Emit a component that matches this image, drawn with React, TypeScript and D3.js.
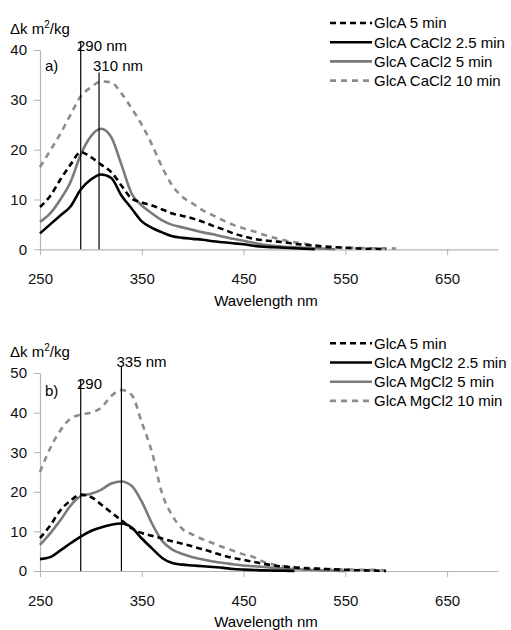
import React, { useEffect, useRef } from 'react'
import * as d3 from 'd3'

// wavelengths (nm) shared by every series, 10 nm steps
const wavelengths = [250, 260, 270, 280, 290, 300, 310, 320, 330, 340, 350, 360, 370, 380, 390, 400, 410, 420, 430, 440, 450, 460, 470, 480, 490, 500, 510, 520, 530, 540, 550, 560, 570, 580, 590, 600]

// panel a) CaCl2
const glcA5a = [8.5, 10.7, 14, 17, 19.5, 18.5, 17, 15.5, 12.8, 10.2, 9.4, 8.8, 8, 7.2, 6.7, 6.2, 5.5, 4.7, 4, 3.2, 2.6, 2.1, 1.8, 1.6, 1.4, 1.1, 0.9, 0.7, 0.5, 0.4, 0.3, 0.2, 0.1, 0.1, 0, 0]
const caCl25 = [3.2, 5, 6.8, 8.6, 12, 14, 15, 14.3, 10.8, 8.2, 5.6, 4.3, 3.4, 2.6, 2.3, 2.1, 1.9, 1.6, 1.4, 1.2, 1, 0.7, 0.5, 0.4, 0.3, 0.2, 0.1, 0, 0, 0, 0, 0, 0, 0, 0, 0]
const caCl5 = [5.5, 7.2, 10, 13.5, 19, 22.7, 24.2, 22.5, 17, 11.2, 8.8, 7.2, 5.8, 4.9, 4.4, 3.9, 3.4, 3, 2.5, 2.1, 1.7, 1.3, 0.9, 0.7, 0.5, 0.4, 0.3, 0.2, 0.1, 0, 0, 0, 0, 0, 0, 0]
const caCl10 = [16.5, 19.8, 23.2, 27, 30.7, 32.5, 33.7, 33.5, 31.3, 28.3, 25, 21, 16.5, 12.8, 10.5, 9.2, 7.8, 6.8, 5.8, 4.9, 4.2, 3.6, 2.9, 2.3, 1.8, 1.4, 1.1, 0.8, 0.6, 0.45, 0.35, 0.3, 0.25, 0.2, 0.2, 0.15]

// panel b) MgCl2
const glcA5b = [8.3, 11.5, 15.3, 17.8, 19.3, 18.7, 16.8, 14.8, 12.8, 10.8, 9.6, 8.9, 8.2, 7.5, 6.9, 6.2, 5.5, 4.7, 3.9, 3.3, 2.8, 2.3, 1.8, 1.4, 1.1, 0.9, 0.7, 0.6, 0.5, 0.4, 0.3, 0.2, 0.15, 0.1, 0, 0]
const mgCl25 = [3, 3.5, 5.2, 7, 8.7, 10.1, 11, 11.7, 12, 11, 8.2, 5.7, 3.3, 2, 1.6, 1.4, 1.2, 1, 0.8, 0.5, 0.35, 0.25, 0.15, 0.1, 0.05, 0, 0, 0, 0, 0, 0, 0, 0, 0, 0, 0]
const mgCl5 = [6.6, 9.5, 12.8, 16.5, 18.9, 19.5, 20.5, 22.1, 22.6, 21.5, 17.5, 12, 7.6, 5.4, 4.3, 3.5, 2.9, 2.4, 2, 1.7, 1.4, 1.2, 1, 0.8, 0.6, 0.45, 0.35, 0.25, 0.15, 0.1, 0, 0, 0, 0, 0, 0]
const mgCl10 = [25, 31, 35.5, 38.5, 39.5, 40, 41.2, 44.2, 45.7, 44.5, 37.5, 30, 19.5, 14, 10.6, 9.2, 8, 7, 6, 5.1, 4.2, 3.5, 2.3, 1.6, 1.2, 0.95, 0.8, 0.65, 0.5, 0.45, 0.4, 0.35, 0.3, 0.3, 0, 0]

const xTicks = [250, 350, 450, 550, 650]

const STYLES = [
  { color: '#000', dash: '6,4' },
  { color: '#000', dash: null },
  { color: '#7a7a7a', dash: null },
  { color: '#8c8c8c', dash: '6,5' },
]

const FONT = 'Liberation Sans, Arial, sans-serif'

const panels = [
  {
    tag: 'a)',
    top: 50, bottom: 249.3, yMax: 40, yTicks: [0, 10, 20, 30, 40],
    names: ['GlcA 5 min', 'GlcA CaCl2 2.5 min', 'GlcA CaCl2 5 min', 'GlcA CaCl2 10 min'],
    values: [glcA5a, caCl25, caCl5, caCl10],
    markers: [{ at: 290, top: 41.6, label: '290 nm', lx: 77, ly: 51 }, { at: 308, top: 35.5, label: '310 nm', lx: 93, ly: 71 }],
    unitY: 34, tagY: 71, legendY: 23, axisTitleY: 306,
  },
  {
    tag: 'b)',
    top: 373, bottom: 571, yMax: 50, yTicks: [0, 10, 20, 30, 40, 50],
    names: ['GlcA 5 min', 'GlcA MgCl2 2.5 min', 'GlcA MgCl2 5 min', 'GlcA MgCl2 10 min'],
    values: [glcA5b, mgCl25, mgCl5, mgCl10],
    markers: [{ at: 290, top: 48.5, label: '290', lx: 77, ly: 389 }, { at: 330, top: 51.5, label: '335 nm', lx: 116.5, ly: 367 }],
    unitY: 357, tagY: 396, legendY: 343.3, axisTitleY: 627,
  },
]

// keep points up to (and including) the first zero after the last non-zero value
function trimTail(vals: number[]) {
  let last = vals.length - 1
  while (last > 0 && vals[last] === 0) last--
  return vals.slice(0, Math.min(vals.length, last + 2))
}

export default function App() {
  const ref = useRef<SVGSVGElement>(null)

  useEffect(() => {
    const svg = d3.select(ref.current)
    svg.selectAll('*').remove()
    const x = d3.scaleLinear().domain([250, 700]).range([40, 498])

    panels.forEach(p => {
      const y = d3.scaleLinear().domain([0, p.yMax]).range([p.bottom, p.top])
      const g = svg.append('g').style('font-family', FONT)

      // axes
      const ax = g.append('g')
        .attr('transform', `translate(0,${p.bottom})`)
        .call(d3.axisBottom(x).tickValues(xTicks).tickSize(6).tickPadding(18).tickSizeOuter(0).tickFormat(d3.format('d')))
      const ay = g.append('g')
        .attr('transform', `translate(${x(250)},0)`)
        .call(d3.axisLeft(y).tickValues(p.yTicks).tickSize(6).tickPadding(7).tickSizeOuter(0))
      ;[ax, ay].forEach(a => {
        a.select('.domain').attr('stroke', '#b4b4b4').attr('stroke-width', 1.2)
        a.selectAll('.tick line').attr('stroke', '#b4b4b4')
        a.selectAll('.tick text').attr('fill', '#111').style('font-size', '15px').style('font-family', FONT)
      })

      // curves
      const line = d3.line<number>()
        .x((d, i) => x(wavelengths[i]))
        .y(d => y(d))
        .curve(d3.curveMonotoneX)
      const order = [3, 2, 0, 1]
      order.forEach(k => {
        g.append('path')
          .attr('d', line(trimTail(p.values[k])))
          .attr('fill', 'none')
          .attr('stroke', STYLES[k].color)
          .attr('stroke-width', 2.6)
          .attr('stroke-dasharray', STYLES[k].dash)
      })

      // peak markers
      p.markers.forEach(m => {
        g.append('line')
          .attr('x1', x(m.at)).attr('x2', x(m.at))
          .attr('y1', y(m.top)).attr('y2', y(0))
          .attr('stroke', '#000').attr('stroke-width', 1.2)
        g.append('text').attr('x', m.lx).attr('y', m.ly)
          .style('font-size', '15px').attr('fill', '#000').text(m.label)
      })

      g.append('text').attr('x', 45).attr('y', p.tagY).style('font-size', '15px').text(p.tag)

      const unit = g.append('text').attr('x', 10).attr('y', p.unitY).style('font-size', '15px')
      unit.append('tspan').text('Δk m')
      unit.append('tspan').attr('dy', -6).style('font-size', '10px').text('2')
      unit.append('tspan').attr('dy', 6).text('/kg')

      g.append('text').attr('x', 266).attr('y', p.axisTitleY)
        .attr('text-anchor', 'middle').style('font-size', '15px').text('Wavelength nm')

      // legend
      p.names.forEach((name, k) => {
        const ly = p.legendY + k * 19.2
        g.append('line')
          .attr('x1', 330).attr('x2', 372).attr('y1', ly).attr('y2', ly)
          .attr('stroke', STYLES[k].color).attr('stroke-width', 2.6)
          .attr('stroke-dasharray', STYLES[k].dash)
        g.append('text').attr('x', 374).attr('y', ly + 5.4)
          .style('font-size', '15px').text(name)
      })
    })
  }, [])

  return (
    <svg ref={ref} width={511} height={630}
      style={{ position: 'absolute', left: 0, top: 0, background: '#fff' }} />
  )
}
